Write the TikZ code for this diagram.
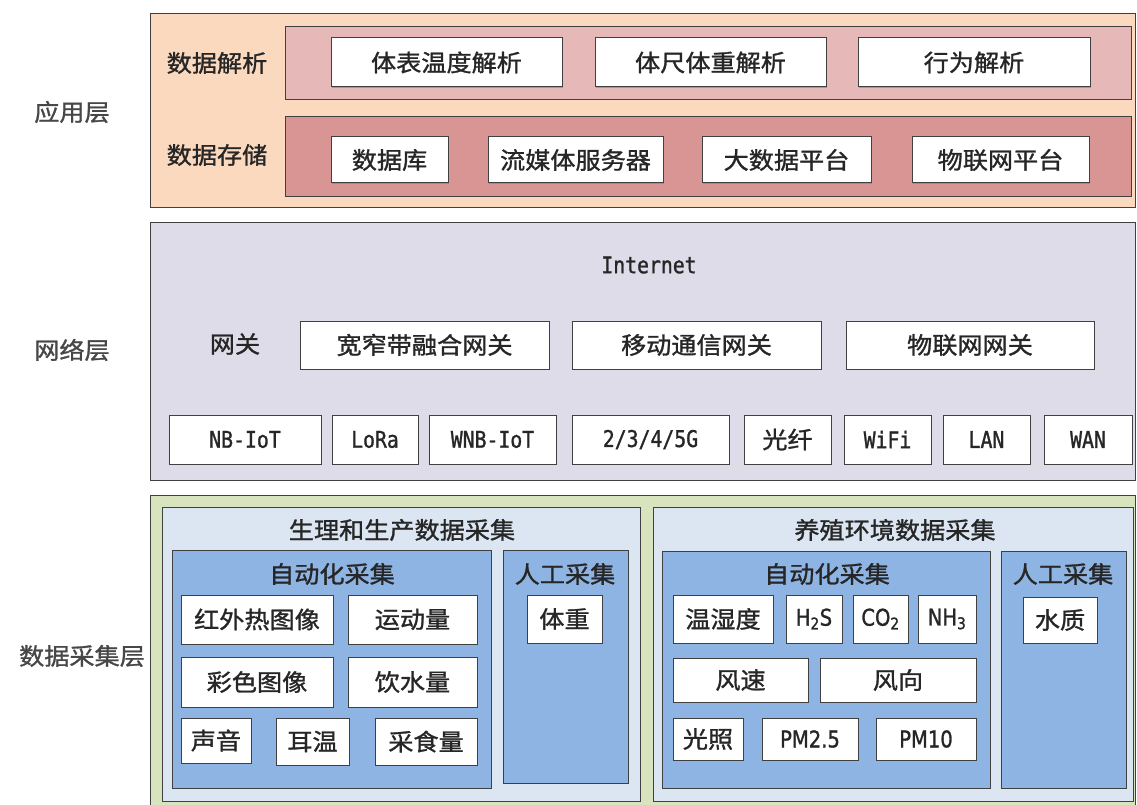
\documentclass[tikz,border=0pt]{standalone}
\usepackage{fontspec}
\setmainfont{Noto Sans CJK SC}
\newfontfamily\cjkw[FakeStretch=1.07,FakeBold=1.2]{Noto Sans CJK SC}
\newfontfamily\monow[FakeStretch=0.86,FakeBold=1.2]{DejaVu Sans Mono}
\newfontfamily\latn[FakeStretch=0.85,FakeBold=1.2]{DejaVu Sans}
\usetikzlibrary{shadows}
\definecolor{appbg}{HTML}{FAD9BF}
\definecolor{parsebg}{HTML}{E6B9B8}
\definecolor{storebg}{HTML}{D99594}
\definecolor{netbg}{HTML}{DFDCE9}
\definecolor{colbg}{HTML}{D8E4BE}
\definecolor{panelbg}{HTML}{DCE6F2}
\definecolor{autobg}{HTML}{8EB4E3}
\definecolor{edge}{HTML}{404040}
\definecolor{txt}{HTML}{262626}
\newcommand\bx[7]{%
  \pgfmathsetmacro\myw{#5-#3}\pgfmathsetmacro\myh{#6-#4}%
  \node[#1, minimum width=\myw pt, minimum height=\myh pt] (#2) at ({(#3+#5)/2},{(#4+#6)/2}) {#7};}
\tikzset{
  layer/.style={draw=edge, line width=1pt, inner sep=0pt},
  wbox/.style={draw=edge, fill=white, line width=1pt, inner sep=0pt, text=txt,
    drop shadow={shadow xshift=1.2pt, shadow yshift=-1.2pt, opacity=0.6}},
  fcj/.style={font={\cjkw\fontsize{23.5}{26}\selectfont}},
  fmono/.style={font={\monow\fontsize{23}{26}\selectfont}},
  flat/.style={font={\latn\fontsize{23}{26}\selectfont}},
  ftitle/.style={font={\cjkw\fontsize{23.5}{26}\selectfont}, text=txt},
  layerlab/.style={font={\cjkw\fontsize{23.5}{26}\selectfont}, text=txt!85},
  rowlab/.style={font={\cjkw\fontsize{23.5}{26}\selectfont}, text=txt},
}
\begin{document}
\begin{tikzpicture}[x=1pt, y=-1pt]
\useasboundingbox (0,0) rectangle (1137,805);
% layer labels
\node[layerlab] (lapp) at (72,112) {应用层};
\node[layerlab] (lnet) at (72,350) {网络层};
\node[layerlab] (lcol) at (82,656) {数据采集层};
% application layer
\bx{layer,fill=appbg}{app}{150}{14}{1135}{207}{}
\bx{layer,fill=parsebg}{parse}{285}{27}{1131}{100}{}
\bx{layer,fill=storebg}{store}{285}{117}{1131}{197}{}
\node[rowlab] (lparse) at (217,63) {数据解析};
\node[rowlab] (lstore) at (217,155) {数据存储};
\bx{wbox,fcj}{a1}{331}{38}{562}{87}{体表温度解析}
\bx{wbox,fcj}{a2}{595}{38}{826}{87}{体尺体重解析}
\bx{wbox,fcj}{a3}{858}{38}{1090}{87}{行为解析}
\bx{wbox,fcj}{s1}{331}{137}{448}{183}{数据库}
\bx{wbox,fcj}{s2}{488}{137}{663}{183}{流媒体服务器}
\bx{wbox,fcj}{s3}{702}{137}{871}{183}{大数据平台}
\bx{wbox,fcj}{s4}{912}{137}{1089}{183}{物联网平台}
% network layer
\bx{layer,fill=netbg}{net}{150}{222}{1135}{480}{}
\node[fmono, text=txt] (inet) at (649,265) {Internet};
\node[rowlab] (lgw) at (235,344) {网关};
\bx{wbox,fcj}{g1}{300}{321}{549}{369}{宽窄带融合网关}
\bx{wbox,fcj}{g2}{572}{321}{821}{369}{移动通信网关}
\bx{wbox,fcj}{g3}{846}{321}{1094}{369}{物联网网关}
\bx{wbox,fmono}{n1}{169}{415}{321}{464}{NB-IoT}
\bx{wbox,fmono}{n2}{332}{415}{418}{464}{LoRa}
\bx{wbox,fmono}{n3}{429}{415}{556}{464}{WNB-IoT}
\bx{wbox,fmono}{n4}{572}{415}{729}{464}{2/3/4/5G}
\bx{wbox,fcj}{n5}{744}{415}{831}{464}{光纤}
\bx{wbox,fmono}{n6}{844}{415}{931}{464}{WiFi}
\bx{wbox,fmono}{n7}{943}{415}{1030}{464}{LAN}
\bx{wbox,fmono}{n8}{1044}{415}{1132}{464}{WAN}
% data collection layer
\bx{layer,fill=colbg}{col}{150}{495}{1135}{808}{}
\bx{layer,fill=panelbg}{pl}{162}{507}{640}{801}{}
\bx{layer,fill=panelbg}{pr}{653}{507}{1133}{801}{}
\node[ftitle] (tpl) at (402,530) {生理和生产数据采集};
\node[ftitle] (tpr) at (895,530) {养殖环境数据采集};
\bx{layer,fill=autobg}{al}{172}{550}{491}{788}{}
\bx{layer,fill=autobg}{ml}{503}{550}{628}{783}{}
\bx{layer,fill=autobg}{ar}{662}{551}{990}{788}{}
\bx{layer,fill=autobg}{mr}{1001}{551}{1126}{788}{}
\node[ftitle] (tal) at (332,574) {自动化采集};
\node[ftitle] (tml) at (565,574) {人工采集};
\node[ftitle] (tar) at (827,574) {自动化采集};
\node[ftitle] (tmr) at (1063,574) {人工采集};
% left panel items
\bx{wbox,fcj}{c1}{181}{595}{333}{644}{红外热图像}
\bx{wbox,fcj}{c2}{348}{595}{477}{644}{运动量}
\bx{wbox,fcj}{c3}{181}{657}{333}{707}{彩色图像}
\bx{wbox,fcj}{c4}{348}{657}{477}{707}{饮水量}
\bx{wbox,fcj}{c5}{181}{718}{251}{763}{声音}
\bx{wbox,fcj}{c6}{276}{718}{349}{765}{耳温}
\bx{wbox,fcj}{c7}{375}{718}{477}{765}{采食量}
\bx{wbox,fcj}{c8}{527}{595}{602}{643}{体重}
% right panel items
\bx{wbox,fcj}{e1}{673}{595}{773}{643}{温湿度}
\bx{wbox,flat}{e2}{786}{595}{842}{643}{H\textsubscript{2}S}
\bx{wbox,flat}{e3}{853}{595}{908}{643}{CO\textsubscript{2}}
\bx{wbox,flat}{e4}{918}{595}{976}{643}{NH\textsubscript{3}}
\bx{wbox,fcj}{e5}{673}{658}{808}{702}{风速}
\bx{wbox,fcj}{e6}{820}{658}{976}{702}{风向}
\bx{wbox,fcj}{e7}{673}{718}{743}{760}{光照}
\bx{wbox,flat}{e8}{762}{718}{858}{760}{PM2.5}
\bx{wbox,flat}{e9}{876}{718}{976}{760}{PM10}
\bx{wbox,fcj}{e10}{1023}{597}{1097}{643}{水质}
\end{tikzpicture}
\end{document}
